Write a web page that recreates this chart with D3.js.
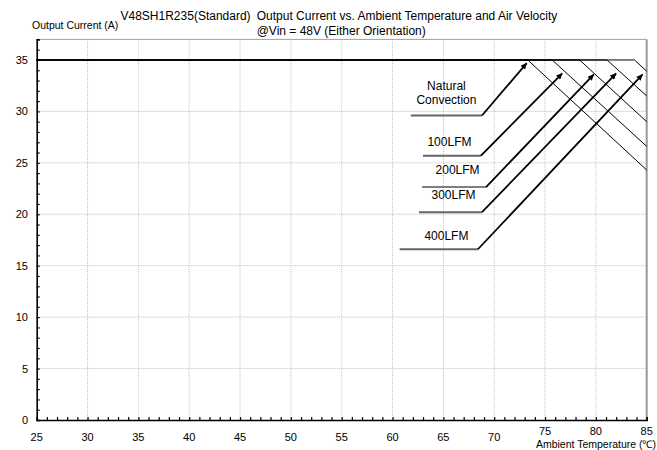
<!DOCTYPE html>
<html lang="en">
<head>
   <meta charset="UTF-8">
   <title>Output Current vs. Ambient Temperature</title>
   <script src="https://cdn.jsdelivr.net/npm/d3@7"></script>
   <style>
      body { margin: 0; background: #fff; }
      svg text { font-family: "Liberation Sans", Arial, sans-serif; fill: #000; }
   </style>
</head>
<body>
   <svg id="chart" width="657" height="450"></svg>

   <script>
       // Derating curves
       const seriesNames = ["Natural Convection", "100LFM", "200LFM", "300LFM", "400LFM"];
       const maxCurrent = 35;
       const derateStart = [73.3, 75.7, 78.4, 81.1, 83.8];   // temp where derating begins
       const currentAt85 = [24.3, 26.6, 29.0, 31.5, 33.9];    // current at 85 C

       const xTicks = [25, 30, 35, 40, 45, 50, 55, 60, 65, 70, 75, 80, 85];
       const yTicks = [0, 5, 10, 15, 20, 25, 30, 35];

       // Annotation anchors in data units
       const labelX = [65.3, 65.6, 66.4, 66.0, 65.3];
       const labelY = [31.8, 27.0, 24.3, 21.9, 17.9];
       const lineX0 = [61.8, 63.0, 62.9, 62.6, 60.7];
       const lineX1 = [68.8, 68.7, 69.2, 68.8, 68.4];
       const lineY = [29.6, 25.7, 22.65, 20.2, 16.6];
       const tipX = [73.2, 76.7, 79.8, 82.0, 84.6];
       const tipY = [34.7, 33.7, 33.6, 33.7, 33.6];

       const svg = d3.select('#chart');
       const width = 657, height = 450;
       const margin = { top: 39.4, right: 10.3, bottom: 30, left: 36.7 };

       const x = d3.scaleLinear().domain([25, 85]).range([margin.left, width - margin.right]);
       const y = d3.scaleLinear().domain([0, 37]).range([height - margin.bottom, margin.top]);

       // grid
       svg.append('g')
           .selectAll('line')
           .data(xTicks.slice(1, -1))
           .join('line')
           .attr('x1', d => x(d)).attr('x2', d => x(d))
           .attr('y1', y(0)).attr('y2', y(37))
           .attr('stroke', '#b0b0b0').attr('stroke-width', 0.8)
           .attr('stroke-dasharray', '1,1');

       svg.append('g')
           .selectAll('line')
           .data(yTicks.slice(1, -1))
           .join('line')
           .attr('x1', x(25)).attr('x2', x(85))
           .attr('y1', d => y(d)).attr('y2', d => y(d))
           .attr('stroke', '#b0b0b0').attr('stroke-width', 0.8)
           .attr('stroke-dasharray', '1,1');

       // frame: top and right in gray
       svg.append('line')
           .attr('x1', x(25)).attr('x2', x(85))
           .attr('y1', y(37)).attr('y2', y(37))
           .attr('stroke', '#a0a0a0').attr('stroke-width', 1);
       svg.append('line')
           .attr('x1', x(85)).attr('x2', x(85))
           .attr('y1', y(37)).attr('y2', y(0))
           .attr('stroke', '#999').attr('stroke-width', 2);

       // axes with inner minor ticks
       const xAxis = d3.axisTop(x).tickValues(d3.range(25, 86, 1)).tickSize(3).tickFormat('');
       svg.append('g')
           .attr('transform', `translate(0,${y(0)})`)
           .call(xAxis)
           .call(g => g.select('.domain').attr('stroke-width', 1.6))
           .call(g => g.selectAll('.tick line').attr('stroke-width', 1.2));

       const yAxis = d3.axisRight(y).tickValues(d3.range(0, 38, 1)).tickSize(3).tickFormat('');
       svg.append('g')
           .attr('transform', `translate(${x(25)},0)`)
           .call(yAxis)
           .call(g => g.select('.domain').attr('stroke-width', 1.6))
           .call(g => g.selectAll('.tick line').attr('stroke-width', 1.2));

       // tick labels (75..85 sit a bit higher to leave room for the axis title)
       svg.append('g')
           .selectAll('text')
           .data(xTicks)
           .join('text')
           .attr('x', d => x(d))
           .attr('y', d => d >= 75 ? 435 : 441)
           .attr('text-anchor', 'middle')
           .attr('font-size', 11)
           .text(d => d);

       svg.append('g')
           .selectAll('text')
           .data(yTicks)
           .join('text')
           .attr('x', 28)
           .attr('y', d => y(d) + 4)
           .attr('text-anchor', 'end')
           .attr('font-size', 11)
           .text(d => d);

       // derating curves
       const line = d3.line().x(d => x(d[0])).y(d => y(d[1]));
       svg.append('g')
           .selectAll('path')
           .data(seriesNames.map((n, i) => [[25, maxCurrent], [derateStart[i], maxCurrent], [85, currentAt85[i]]]))
           .join('path')
           .attr('d', line)
           .attr('fill', 'none')
           .attr('stroke', '#000')
           .attr('stroke-width', 1);

       // arrow marker
       svg.append('defs').append('marker')
           .attr('id', 'arrow')
           .attr('viewBox', '0 0 10 10')
           .attr('refX', 10).attr('refY', 5)
           .attr('markerWidth', 8).attr('markerHeight', 6)
           .attr('markerUnits', 'userSpaceOnUse')
           .attr('orient', 'auto')
           .append('path')
           .attr('d', 'M0,0 L10,5 L0,10 z')
           .attr('fill', '#000');

       // annotations
       const ann = svg.append('g');
       seriesNames.forEach((n, i) => {
           ann.append('line')
               .attr('x1', x(lineX0[i])).attr('x2', x(lineX1[i]))
               .attr('y1', y(lineY[i])).attr('y2', y(lineY[i]))
               .attr('stroke', i === 2 ? '#000' : '#666')
               .attr('stroke-width', i === 2 ? 1.2 : 2);
           ann.append('line')
               .attr('x1', x(lineX1[i])).attr('y1', y(lineY[i]))
               .attr('x2', x(tipX[i])).attr('y2', y(tipY[i]))
               .attr('stroke', '#000')
               .attr('stroke-width', 1.8)
               .attr('marker-end', 'url(#arrow)');

           const words = i === 0 ? ['Natural', 'Convection'] : [n];
           const t = ann.append('text')
               .attr('x', x(labelX[i]))
               .attr('y', y(labelY[i]) + 4 - (words.length - 1) * 7)
               .attr('text-anchor', 'middle')
               .attr('font-size', 12);
           words.forEach((w, k) => {
               t.append('tspan')
                   .attr('x', x(labelX[i]))
                   .attr('dy', k === 0 ? 0 : 14)
                   .text(w);
           });
       });

       // titles
       svg.append('text')
           .attr('x', 120.5).attr('y', 19.5)
           .attr('font-size', 12)
           .text('V48SH1R235(Standard)');
       svg.append('text')
           .attr('x', 256.7).attr('y', 19.5)
           .attr('font-size', 12)
           .text('Output Current vs. Ambient Temperature and Air Velocity');
       svg.append('text')
           .attr('x', 256.7).attr('y', 35)
           .attr('font-size', 12)
           .text('@Vin = 48V (Either Orientation)');
       svg.append('text')
           .attr('x', 32).attr('y', 29)
           .attr('font-size', 10.5)
           .text('Output Current (A)');
       svg.append('text')
           .attr('x', 656).attr('y', 447.5)
           .attr('text-anchor', 'end')
           .attr('font-size', 10.5)
           .text('Ambient Temperature (\u2103)');
   </script>
</body>
</html>
